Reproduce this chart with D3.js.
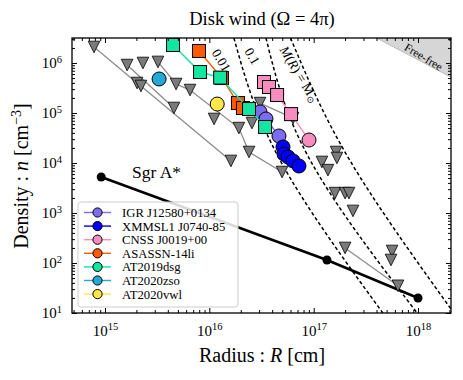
<!DOCTYPE html>
<html>
<head>
<meta charset="utf-8">
<script src="https://cdn.jsdelivr.net/npm/d3@7"></script>
<style>
  body { margin: 0; background: #fff; }
  svg { font-family: "Liberation Serif", "Times New Roman", serif; }
</style>
</head>
<body>
<div id="chart"></div>
<script>
// ---- data: [radius cm, density cm^-3] ----
var sgrA = [[9.2e14, 5.25e3], [1.34e17, 115], [1.0e18, 20]];

var igr = [[3.06e16, 1.05e5], [3.49e16, 7.6e4], [4.65e16, 3.47e4]];
var xmm = [[5.08e16, 2.09e4], [5.2e16, 1.51e4], [5.68e16, 1.32e4], [6.34e16, 1.1e4], [7.23e16, 8.7e3]];
var cnssSq = [[3.34e16, 4.17e5], [3.73e16, 3.31e5], [4.46e16, 2.29e5], [6.07e16, 9.5e4]];
var cnssCirc = [[9.02e16, 2.88e4]];
var asassnSq = [[7.96e15, 1.74e6], [1.32e16, 5.0e5], [1.88e16, 1.58e5], [2.1e16, 1.26e5]];
var dsgSq = [[4.49e15, 2.29e6], [8.15e15, 6.6e5], [1.27e16, 5.1e5], [2.4e16, 1.2e5], [3.42e16, 5.25e4]];
var zso = [[3.3e15, 4.79e5]];
var vwl = [[1.19e16, 1.51e5]];

var names = ["IGR J12580+0134", "XMMSL1 J0740-85", "CNSS J0019+00", "ASASSN-14li",
             "AT2019dsg", "AT2020zso", "AT2020vwl"];
var colors = ["#7b6cf0", "#0000ff", "#f98cbf", "#ff5a00", "#12e6a2", "#25a9d4", "#ffe74a"];

// upper limits (triangles); groups with more than one point are joined
var limits = [
  [[7.85e14, 2.09e6], [2.03e15, 3.98e5], [2.21e15, 3.47e5], [1.61e16, 1.1e4]],
  [[1.63e15, 9.1e5], [4.58e15, 1.26e5]],
  [[3.22e15, 1.05e6], [4.8e15, 3.8e5], [6.53e15, 2.88e5], [1.92e16, 5.0e4], [2.4e16, 1.66e4], [4.98e16, 6.6e3]],
  [[2.31e15, 1.0e6]],
  [[1.11e16, 7.6e4]],
  [[3.06e16, 1.58e5], [6.34e16, 7.9e4]],
  [[2.56e16, 6.3e4]],
  [[1.2e17, 1.05e4]], [[1.37e17, 7.2e3]], [[1.64e17, 1.66e4]], [[1.67e17, 1.26e4]],
  [[1.6e17, 2.5e3]], [[2.0e17, 2.5e3]], [[2.18e17, 2.5e3]], [[2.38e17, 1.1e3]],
  [[5.64e17, 174]], [[5.51e17, 115]],
  [[2.0e17, 200], [6.43e17, 35]]
];

// constant-mass lines
var massLabels = ["0.01", "0.1", "M(R) = M"];
var massLines = [
  [[1.72e16, 3.16e6], [4.75e16, 1.15e4], [4.6e17, 10]],
  [[3.49e16, 3.16e6], [9.23e16, 1.15e4], [9.8e17, 10]],
  [[6.0e16, 3.16e6], [2.21e17, 1.15e4], [2.07e18, 12]]
];

// free-free excluded corner
var freeFree = [[4.0e17, 3.16e6], [2.07e18, 3.16e6], [2.07e18, 5.2e5]];

var xExps = [15, 16, 17, 18];
var yExps = [1, 2, 3, 4, 5, 6];

// ---- chart ----
var w = 463, h = 380;
var x = d3.scaleLog().domain([4.83e14, 2.07e18]).range([72, 451]);
var y = d3.scaleLog().domain([10, 3.162e6]).range([313, 38]);

var svg = d3.select("#chart").append("svg").attr("width", w).attr("height", h);

svg.append("clipPath").attr("id", "plot")
  .append("rect").attr("x", 72).attr("y", 38).attr("width", 379).attr("height", 275);

var plot = svg.append("g").attr("clip-path", "url(#plot)");

var line = d3.line().x(d => x(d[0])).y(d => y(d[1]));
var smoothLine = d3.line().x(d => x(d[0])).y(d => y(d[1])).curve(d3.curveNatural);
var shapeLine = d3.line().x(d => x(d[0])).y(d => y(d[1])).curve(d3.curveLinearClosed);

// free-free region
plot.append("path")
  .datum(freeFree)
  .attr("d", shapeLine)
  .attr("fill", "#d6d6d6").attr("stroke", "#b0b0b0").attr("stroke-width", 0.8);

svg.append("text")
  .attr("transform", "translate(423,58) rotate(31)")
  .attr("text-anchor", "middle").attr("dominant-baseline", "middle")
  .attr("font-size", 11.5).text("Free-free");

// mass lines
massLines.forEach(function (m) {
  plot.append("path").datum(m).attr("d", smoothLine)
    .attr("fill", "none").attr("stroke", "#000")
    .attr("stroke-width", 1.5).attr("stroke-dasharray", "3.5,2.5");
});
var labelPos = [[220, 61], [251, 57], [298, 75]];
massLabels.forEach(function (t, i) {
  var txt = svg.append("text")
    .attr("transform", "translate(" + labelPos[i][0] + "," + labelPos[i][1] + ") rotate(59)")
    .attr("text-anchor", "middle").attr("dominant-baseline", "middle")
    .attr("font-size", 13.5);
  if (i < 2) { txt.text(t); }
  else {
    txt.append("tspan").attr("font-style", "italic").text("M");
    txt.append("tspan").text("(");
    txt.append("tspan").attr("font-style", "italic").text("R");
    txt.append("tspan").text(") = M");
    txt.append("tspan").attr("font-size", 9).attr("dy", 3).text("\u2299");
  }
});

// Sgr A*
plot.append("path").datum(sgrA).attr("d", line)
  .attr("fill", "none").attr("stroke", "#000").attr("stroke-width", 2.6);
plot.selectAll(".sgr").data(sgrA).enter().append("circle")
  .attr("cx", d => x(d[0])).attr("cy", d => y(d[1])).attr("r", 4.5).attr("fill", "#000");
svg.append("text").attr("x", 132).attr("y", 178).attr("font-size", 17.5).text("Sgr A*");

// upper limits
function tri(d) {
  var cx = x(d[0]), cy = y(d[1]), s = 5.8;
  return "M" + (cx - s) + "," + (cy - s) + "L" + (cx + s) + "," + (cy - s) + "L" + cx + "," + (cy + s) + "Z";
}
limits.forEach(function (g) {
  if (g.length > 1) {
    plot.append("path").datum(g).attr("d", line)
      .attr("fill", "none").attr("stroke", "#8c8c8c").attr("stroke-width", 1.3);
  }
});
limits.forEach(function (g) {
  g.forEach(function (d) {
    plot.append("path").attr("d", tri(d))
      .attr("fill", "#7a7a7a").attr("stroke", "#000").attr("stroke-width", 0.8);
  });
});

// sources
var sources = [
  {sq: [], ci: igr}, {sq: [], ci: xmm}, {sq: cnssSq, ci: cnssCirc},
  {sq: asassnSq, ci: []}, {sq: dsgSq, ci: []}, {sq: [], ci: zso}, {sq: [], ci: vwl}
];
sources.forEach(function (s, i) {
  var all = s.sq.concat(s.ci);
  if (all.length > 1) {
    plot.append("path").datum(all).attr("d", line)
      .attr("fill", "none").attr("stroke", colors[i]).attr("stroke-width", 1.4);
  }
  s.sq.forEach(function (d) {
    plot.append("rect").attr("x", x(d[0]) - 6.5).attr("y", y(d[1]) - 6.5)
      .attr("width", 13).attr("height", 13)
      .attr("fill", colors[i]).attr("stroke", "#000").attr("stroke-width", 1);
  });
  s.ci.forEach(function (d) {
    plot.append("circle").attr("cx", x(d[0])).attr("cy", y(d[1])).attr("r", 7)
      .attr("fill", colors[i]).attr("stroke", "#000").attr("stroke-width", 1);
  });
});

// legend
var lg = svg.append("g");
lg.append("rect").attr("x", 78).attr("y", 202).attr("width", 160).attr("height", 105)
  .attr("rx", 3).attr("fill", "#fff").attr("fill-opacity", 0.85)
  .attr("stroke", "#cccccc").attr("stroke-width", 1);
names.forEach(function (n, i) {
  var yy = 212.5 + i * 13.6;
  lg.append("line").attr("x1", 84).attr("x2", 111).attr("y1", yy).attr("y2", yy)
    .attr("stroke", colors[i]).attr("stroke-width", 1.4);
  lg.append("circle").attr("cx", 97.5).attr("cy", yy).attr("r", 4.6)
    .attr("fill", colors[i]).attr("stroke", "#000").attr("stroke-width", 1);
  lg.append("text").attr("x", 122).attr("y", yy).attr("dy", "0.35em")
    .attr("font-size", 12.7).text(n);
});

// axes
function minors(scale) {
  var dom = scale.domain(), out = [];
  for (var e = Math.floor(Math.log10(dom[0])); e <= Math.ceil(Math.log10(dom[1])); e++) {
    for (var m = 2; m <= 9; m++) {
      var v = m * Math.pow(10, e);
      if (v > dom[0] && v < dom[1]) out.push(v);
    }
  }
  return out;
}
function supLabels(g) {
  g.selectAll(".tick text").each(function (d) {
    var t = d3.select(this);
    t.text(null);
    t.append("tspan").text("10");
    t.append("tspan").attr("dy", "-0.55em").attr("font-size", "0.7em")
      .text(Math.round(Math.log10(d)));
  });
}
var xMajor = xExps.map(e => Math.pow(10, e));
var yMajor = yExps.map(e => Math.pow(10, e));

function styleAxis(g) {
  g.select(".domain").remove();
  g.selectAll(".tick line").attr("stroke", "#000").attr("stroke-width", 1);
  g.selectAll("text").attr("fill", "#000").attr("font-family", "Liberation Serif, serif");
}

var gx = svg.append("g").attr("transform", "translate(0,313)")
  .call(d3.axisBottom(x).tickValues(xMajor).tickSize(-5).tickPadding(12))
  .attr("font-size", 15);
styleAxis(gx); supLabels(gx);
svg.append("g").attr("transform", "translate(0,313)")
  .call(d3.axisBottom(x).tickValues(minors(x)).tickSize(-3).tickFormat("")).call(styleAxis);
svg.append("g").attr("transform", "translate(0,38)")
  .call(d3.axisTop(x).tickValues(xMajor).tickSize(-5).tickFormat("")).call(styleAxis);
svg.append("g").attr("transform", "translate(0,38)")
  .call(d3.axisTop(x).tickValues(minors(x)).tickSize(-3).tickFormat("")).call(styleAxis);

var gy = svg.append("g").attr("transform", "translate(72,0)")
  .call(d3.axisLeft(y).tickValues(yMajor).tickSize(-5).tickPadding(10))
  .attr("font-size", 15);
styleAxis(gy); supLabels(gy);
svg.append("g").attr("transform", "translate(72,0)")
  .call(d3.axisLeft(y).tickValues(minors(y)).tickSize(-3).tickFormat("")).call(styleAxis);
svg.append("g").attr("transform", "translate(451,0)")
  .call(d3.axisRight(y).tickValues(yMajor).tickSize(-5).tickFormat("")).call(styleAxis);
svg.append("g").attr("transform", "translate(451,0)")
  .call(d3.axisRight(y).tickValues(minors(y)).tickSize(-3).tickFormat("")).call(styleAxis);

svg.append("rect").attr("x", 72).attr("y", 38).attr("width", 379).attr("height", 275)
  .attr("fill", "none").attr("stroke", "#000").attr("stroke-width", 1.3);

// titles
var title = svg.append("text").attr("x", 262).attr("y", 25)
  .attr("text-anchor", "middle").attr("font-size", 18.5);
title.text("Disk wind (\u03a9 = 4\u03c0)");

var xl = svg.append("text").attr("x", 262).attr("y", 362)
  .attr("text-anchor", "middle").attr("font-size", 20);
xl.append("tspan").text("Radius : ");
xl.append("tspan").attr("font-style", "italic").text("R");
xl.append("tspan").text(" [cm]");

var yl = svg.append("text").attr("transform", "translate(28,176) rotate(-90)")
  .attr("text-anchor", "middle").attr("font-size", 20);
yl.append("tspan").text("Density : ");
yl.append("tspan").attr("font-style", "italic").text("n");
yl.append("tspan").text(" [cm");
yl.append("tspan").attr("dy", "-0.5em").attr("font-size", "0.7em").text("\u22123");
yl.append("tspan").attr("dy", "0.35em").text("]");
</script>
</body>
</html>
